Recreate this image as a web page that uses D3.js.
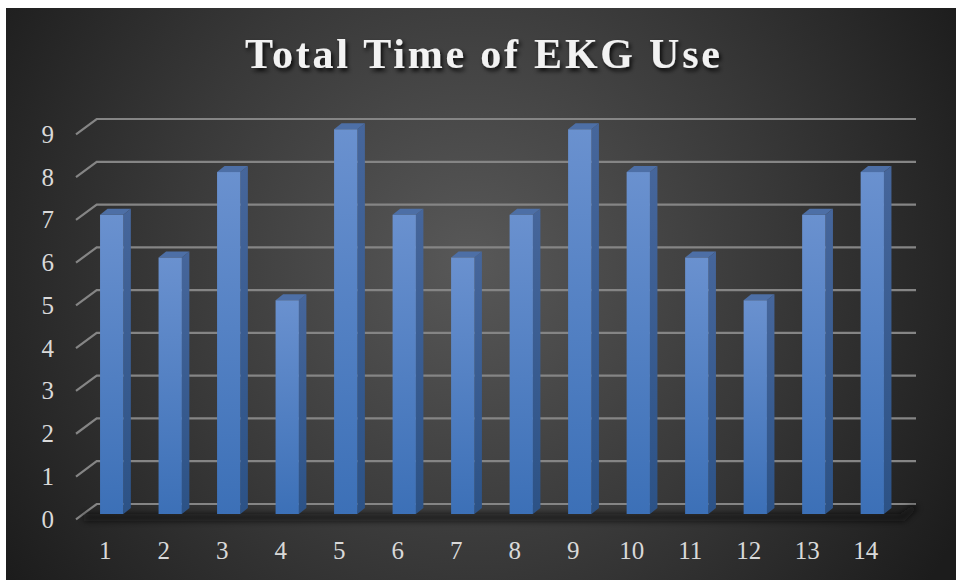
<!DOCTYPE html>
<html>
<head>
<meta charset="utf-8">
<script src="https://cdn.jsdelivr.net/npm/d3@7"></script>
<style>
  html, body { margin: 0; padding: 0; background: #ffffff; }
  svg { display: block; }
</style>
</head>
<body>
<svg id="chart" width="956" height="580"></svg>
<script>
// Sessions and minutes of EKG use per session
const categories = ["1","2","3","4","5","6","7","8","9","10","11","12","13","14"];
const minutes = [7, 6, 8, 5, 9, 7, 6, 7, 9, 8, 6, 5, 7, 8];
const yTicks = [0, 1, 2, 3, 4, 5, 6, 7, 8, 9];
const title = "Total Time of EKG Use";

const svg = d3.select("#chart");
const W = 956, H = 580;
const defs = svg.append("defs");

// Backdrop: dark radial gradient, lighter toward the middle
const bg = defs.append("radialGradient").attr("id", "bg")
  .attr("gradientUnits", "userSpaceOnUse")
  .attr("cx", 470).attr("cy", 260).attr("r", 560);
bg.append("stop").attr("offset", 0).attr("stop-color", "#585858");
bg.append("stop").attr("offset", 0.55).attr("stop-color", "#383838");
bg.append("stop").attr("offset", 1).attr("stop-color", "#1c1c1c");

const front = defs.append("linearGradient").attr("id", "barFront")
  .attr("x1", 0).attr("y1", 0).attr("x2", 0).attr("y2", 1);
front.append("stop").attr("offset", 0).attr("stop-color", "#6a91cf");
front.append("stop").attr("offset", 1).attr("stop-color", "#3c70b7");

const side = defs.append("linearGradient").attr("id", "barSide")
  .attr("x1", 0).attr("y1", 0).attr("x2", 0).attr("y2", 1);
side.append("stop").attr("offset", 0).attr("stop-color", "#46669b");
side.append("stop").attr("offset", 1).attr("stop-color", "#2c5286");

const shadowBlur = defs.append("filter").attr("id", "floorShadow")
  .attr("x", "-10%").attr("y", "-200%").attr("width", "120%").attr("height", "500%");
shadowBlur.append("feGaussianBlur").attr("stdDeviation", 3);

const titleShadow = defs.append("filter").attr("id", "titleShadow")
  .attr("x", "-10%").attr("y", "-30%").attr("width", "120%").attr("height", "160%");
titleShadow.append("feDropShadow").attr("dx", 2).attr("dy", 3)
  .attr("stdDeviation", 2).attr("flood-color", "#000").attr("flood-opacity", 0.85);

svg.append("rect").attr("x", 6).attr("y", 8)
  .attr("width", W - 6).attr("height", H - 8).attr("fill", "url(#bg)");

// Scales: back wall, front edge (projected depth offset) and bar faces
const depthX = 20.7, depthY = 15.3;
const yBack = d3.scaleLinear().domain([0, 9]).range([504, 119]);
const yFront = v => yBack(v) + depthY;
const yBar = d3.scaleLinear().domain([0, 9]).range([514, 129.3]);
const x = d3.scalePoint().domain(categories).range([111.7, 872.3]);
const barW = 23.3, barDx = 7.5, barDy = 6;
const wallLeft = 96.7, wallRight = 916;

// Gridlines: diagonal on the side wall plus horizontal on the back wall
const grid = svg.append("g").attr("stroke", "#858585").attr("stroke-width", 2.2)
  .attr("fill", "none");
grid.selectAll("path").data(yTicks).join("path")
  .attr("d", v => `M${wallLeft - depthX},${yFront(v)}L${wallLeft},${yBack(v)}H${wallRight}`);

// Shadow cast on the floor along the base of the columns
svg.append("path")
  .attr("d", `M84,514L900,514L914,505L918,508L904,521L84,521Z`)
  .attr("fill", "#101010").attr("opacity", 0.75)
  .attr("filter", "url(#floorShadow)");

// Columns
const bars = svg.append("g").selectAll("g").data(categories.map((c, i) => ({ c, v: minutes[i] })))
  .join("g");

bars.append("path")
  .attr("fill", "url(#barSide)")
  .attr("d", d => {
    const x1 = x(d.c) + barW / 2, t = yBar(d.v), b = yBar(0);
    return `M${x1},${t}L${x1 + barDx},${t - barDy}L${x1 + barDx},${b - barDy}L${x1},${b}Z`;
  });

bars.append("path")
  .attr("fill", "#4d6fa6")
  .attr("d", d => {
    const x0 = x(d.c) - barW / 2, t = yBar(d.v);
    return `M${x0},${t}L${x0 + barDx},${t - barDy}L${x0 + barW + barDx},${t - barDy}L${x0 + barW},${t}Z`;
  });

bars.append("rect")
  .attr("fill", "url(#barFront)")
  .attr("x", d => x(d.c) - barW / 2)
  .attr("y", d => yBar(d.v))
  .attr("width", barW)
  .attr("height", d => yBar(0) - yBar(d.v));

// Value axis labels
svg.append("g").selectAll("text").data(yTicks).join("text")
  .attr("x", 54).attr("y", v => yFront(v))
  .attr("text-anchor", "end").attr("dominant-baseline", "central")
  .attr("font-family", "'Liberation Serif', 'DejaVu Serif', serif")
  .attr("font-size", 25).attr("fill", "#d9d9d9")
  .text(v => v);

// Category axis labels
svg.append("g").selectAll("text").data(categories).join("text")
  .attr("x", c => x(c) - 6.5).attr("y", 550)
  .attr("text-anchor", "middle").attr("dominant-baseline", "central")
  .attr("font-family", "'Liberation Serif', 'DejaVu Serif', serif")
  .attr("font-size", 25).attr("fill", "#d9d9d9")
  .text(c => c);

// Title
svg.append("text")
  .attr("x", 482.5).attr("y", 68)
  .attr("text-anchor", "middle")
  .attr("font-family", "'Liberation Serif', 'DejaVu Serif', serif")
  .attr("font-weight", "bold").attr("font-size", 42)
  .attr("textLength", 475).attr("lengthAdjust", "spacing")
  .attr("fill", "#f2f2f2")
  .attr("filter", "url(#titleShadow)")
  .text(title);
</script>
</body>
</html>
